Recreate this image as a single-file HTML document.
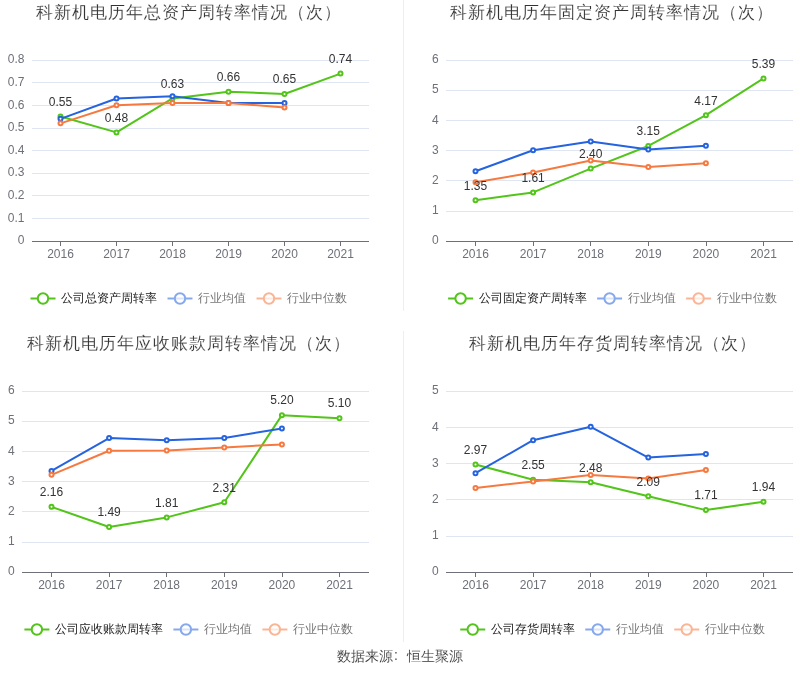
<!DOCTYPE html>
<html><head><meta charset="utf-8"><style>
html,body{margin:0;padding:0;background:#fff;}
body{width:800px;height:689px;overflow:hidden;}
svg{display:block;font-family:'Liberation Sans', sans-serif;will-change:transform;}
</style></head><body>
<svg width="800" height="689" viewBox="0 0 800 689">
<rect width="800" height="689" fill="#fff"/>
<line x1="403.5" x2="403.5" y1="0" y2="311" stroke="#eeeeee" stroke-width="1"/>
<line x1="403.5" x2="403.5" y1="331" y2="642" stroke="#eeeeee" stroke-width="1"/>
<text x="35.6" y="18" font-size="17" letter-spacing="1" fill="#333" stroke="#fff" stroke-width="0.15">科新机电历年总资产周转率情况（次）</text>
<line x1="32" x2="369" y1="218.5" y2="218.5" stroke="#e0e6f1" stroke-width="1"/>
<line x1="32" x2="369" y1="195.5" y2="195.5" stroke="#e0e6f1" stroke-width="1"/>
<line x1="32" x2="369" y1="173.5" y2="173.5" stroke="#e0e6f1" stroke-width="1"/>
<line x1="32" x2="369" y1="150.5" y2="150.5" stroke="#e0e6f1" stroke-width="1"/>
<line x1="32" x2="369" y1="128.5" y2="128.5" stroke="#e0e6f1" stroke-width="1"/>
<line x1="32" x2="369" y1="105.5" y2="105.5" stroke="#e0e6f1" stroke-width="1"/>
<line x1="32" x2="369" y1="82.5" y2="82.5" stroke="#e0e6f1" stroke-width="1"/>
<line x1="32" x2="369" y1="60.5" y2="60.5" stroke="#e0e6f1" stroke-width="1"/>
<text x="24.5" y="244" font-size="12" fill="#6e7079" text-anchor="end">0</text>
<text x="24.5" y="222" font-size="12" fill="#6e7079" text-anchor="end">0.1</text>
<text x="24.5" y="199" font-size="12" fill="#6e7079" text-anchor="end">0.2</text>
<text x="24.5" y="176" font-size="12" fill="#6e7079" text-anchor="end">0.3</text>
<text x="24.5" y="154" font-size="12" fill="#6e7079" text-anchor="end">0.4</text>
<text x="24.5" y="131" font-size="12" fill="#6e7079" text-anchor="end">0.5</text>
<text x="24.5" y="109" font-size="12" fill="#6e7079" text-anchor="end">0.6</text>
<text x="24.5" y="86" font-size="12" fill="#6e7079" text-anchor="end">0.7</text>
<text x="24.5" y="63" font-size="12" fill="#6e7079" text-anchor="end">0.8</text>
<line x1="32" x2="369" y1="241.5" y2="241.5" stroke="#6e7079" stroke-width="1"/>
<line x1="60.5" x2="60.5" y1="241.5" y2="246.0" stroke="#6e7079" stroke-width="1"/>
<text x="60.5" y="258.0" font-size="12" fill="#6e7079" text-anchor="middle">2016</text>
<line x1="116.5" x2="116.5" y1="241.5" y2="246.0" stroke="#6e7079" stroke-width="1"/>
<text x="116.5" y="258.0" font-size="12" fill="#6e7079" text-anchor="middle">2017</text>
<line x1="172.5" x2="172.5" y1="241.5" y2="246.0" stroke="#6e7079" stroke-width="1"/>
<text x="172.5" y="258.0" font-size="12" fill="#6e7079" text-anchor="middle">2018</text>
<line x1="228.5" x2="228.5" y1="241.5" y2="246.0" stroke="#6e7079" stroke-width="1"/>
<text x="228.5" y="258.0" font-size="12" fill="#6e7079" text-anchor="middle">2019</text>
<line x1="284.5" x2="284.5" y1="241.5" y2="246.0" stroke="#6e7079" stroke-width="1"/>
<text x="284.5" y="258.0" font-size="12" fill="#6e7079" text-anchor="middle">2020</text>
<line x1="340.5" x2="340.5" y1="241.5" y2="246.0" stroke="#6e7079" stroke-width="1"/>
<text x="340.5" y="258.0" font-size="12" fill="#6e7079" text-anchor="middle">2021</text>
<polyline points="60.50,116.56 116.50,132.40 172.50,98.46 228.50,91.68 284.50,93.94 340.50,73.58" fill="none" stroke="#52c41a" stroke-width="2" stroke-linejoin="round"/>
<circle cx="60.50" cy="116.56" r="2" fill="#fff" stroke="#52c41a" stroke-width="2"/>
<circle cx="116.50" cy="132.40" r="2" fill="#fff" stroke="#52c41a" stroke-width="2"/>
<circle cx="172.50" cy="98.46" r="2" fill="#fff" stroke="#52c41a" stroke-width="2"/>
<circle cx="228.50" cy="91.68" r="2" fill="#fff" stroke="#52c41a" stroke-width="2"/>
<circle cx="284.50" cy="93.94" r="2" fill="#fff" stroke="#52c41a" stroke-width="2"/>
<circle cx="340.50" cy="73.58" r="2" fill="#fff" stroke="#52c41a" stroke-width="2"/>
<polyline points="60.50,118.82 116.50,98.46 172.50,96.20 228.50,102.99 284.50,102.99" fill="none" stroke="#2563df" stroke-width="2" stroke-linejoin="round"/>
<circle cx="60.50" cy="118.82" r="2" fill="#fff" stroke="#2563df" stroke-width="2"/>
<circle cx="116.50" cy="98.46" r="2" fill="#fff" stroke="#2563df" stroke-width="2"/>
<circle cx="172.50" cy="96.20" r="2" fill="#fff" stroke="#2563df" stroke-width="2"/>
<circle cx="228.50" cy="102.99" r="2" fill="#fff" stroke="#2563df" stroke-width="2"/>
<circle cx="284.50" cy="102.99" r="2" fill="#fff" stroke="#2563df" stroke-width="2"/>
<polyline points="60.50,123.35 116.50,105.25 172.50,102.99 228.50,102.99 284.50,107.51" fill="none" stroke="#f67940" stroke-width="2" stroke-linejoin="round"/>
<circle cx="60.50" cy="123.35" r="2" fill="#fff" stroke="#f67940" stroke-width="2"/>
<circle cx="116.50" cy="105.25" r="2" fill="#fff" stroke="#f67940" stroke-width="2"/>
<circle cx="172.50" cy="102.99" r="2" fill="#fff" stroke="#f67940" stroke-width="2"/>
<circle cx="228.50" cy="102.99" r="2" fill="#fff" stroke="#f67940" stroke-width="2"/>
<circle cx="284.50" cy="107.51" r="2" fill="#fff" stroke="#f67940" stroke-width="2"/>
<text x="60.50" y="106" font-size="12" fill="#333333" text-anchor="middle">0.55</text>
<text x="116.50" y="122" font-size="12" fill="#333333" text-anchor="middle">0.48</text>
<text x="172.50" y="88" font-size="12" fill="#333333" text-anchor="middle">0.63</text>
<text x="228.50" y="81" font-size="12" fill="#333333" text-anchor="middle">0.66</text>
<text x="284.50" y="83" font-size="12" fill="#333333" text-anchor="middle">0.65</text>
<text x="340.50" y="63" font-size="12" fill="#333333" text-anchor="middle">0.74</text>
<g opacity="1"><line x1="30.5" x2="55.5" y1="298.5" y2="298.5" stroke="#52c41a" stroke-width="2"/><circle cx="43.0" cy="298.5" r="5.2" fill="#fff" fill-opacity="1" stroke="#52c41a" stroke-width="2"/></g>
<text x="61.0" y="301.5" font-size="12" fill="#222">公司总资产周转率</text>
<g opacity="0.55"><line x1="167.5" x2="192.5" y1="298.5" y2="298.5" stroke="#2563df" stroke-width="2"/><circle cx="180.0" cy="298.5" r="5.2" fill="#fff" fill-opacity="0.7" stroke="#2563df" stroke-width="2"/></g>
<text x="198.0" y="301.5" font-size="12" fill="#777">行业均值</text>
<g opacity="0.55"><line x1="256.5" x2="281.5" y1="298.5" y2="298.5" stroke="#f67940" stroke-width="2"/><circle cx="269.0" cy="298.5" r="5.2" fill="#fff" fill-opacity="0.7" stroke="#f67940" stroke-width="2"/></g>
<text x="287.0" y="301.5" font-size="12" fill="#777">行业中位数</text>
<text x="450.4" y="18" font-size="17" letter-spacing="1" fill="#333" stroke="#fff" stroke-width="0.15">科新机电历年固定资产周转率情况（次）</text>
<line x1="446" x2="793" y1="211.5" y2="211.5" stroke="#e0e6f1" stroke-width="1"/>
<line x1="446" x2="793" y1="180.5" y2="180.5" stroke="#e0e6f1" stroke-width="1"/>
<line x1="446" x2="793" y1="150.5" y2="150.5" stroke="#e0e6f1" stroke-width="1"/>
<line x1="446" x2="793" y1="120.5" y2="120.5" stroke="#e0e6f1" stroke-width="1"/>
<line x1="446" x2="793" y1="90.5" y2="90.5" stroke="#e0e6f1" stroke-width="1"/>
<line x1="446" x2="793" y1="60.5" y2="60.5" stroke="#e0e6f1" stroke-width="1"/>
<text x="438.7" y="244" font-size="12" fill="#6e7079" text-anchor="end">0</text>
<text x="438.7" y="214" font-size="12" fill="#6e7079" text-anchor="end">1</text>
<text x="438.7" y="184" font-size="12" fill="#6e7079" text-anchor="end">2</text>
<text x="438.7" y="154" font-size="12" fill="#6e7079" text-anchor="end">3</text>
<text x="438.7" y="124" font-size="12" fill="#6e7079" text-anchor="end">4</text>
<text x="438.7" y="93" font-size="12" fill="#6e7079" text-anchor="end">5</text>
<text x="438.7" y="63" font-size="12" fill="#6e7079" text-anchor="end">6</text>
<line x1="446" x2="793" y1="241.5" y2="241.5" stroke="#6e7079" stroke-width="1"/>
<line x1="475.5" x2="475.5" y1="241.5" y2="246.0" stroke="#6e7079" stroke-width="1"/>
<text x="475.5" y="258.0" font-size="12" fill="#6e7079" text-anchor="middle">2016</text>
<line x1="533.5" x2="533.5" y1="241.5" y2="246.0" stroke="#6e7079" stroke-width="1"/>
<text x="533.1" y="258.0" font-size="12" fill="#6e7079" text-anchor="middle">2017</text>
<line x1="590.5" x2="590.5" y1="241.5" y2="246.0" stroke="#6e7079" stroke-width="1"/>
<text x="590.7" y="258.0" font-size="12" fill="#6e7079" text-anchor="middle">2018</text>
<line x1="648.5" x2="648.5" y1="241.5" y2="246.0" stroke="#6e7079" stroke-width="1"/>
<text x="648.3" y="258.0" font-size="12" fill="#6e7079" text-anchor="middle">2019</text>
<line x1="706.5" x2="706.5" y1="241.5" y2="246.0" stroke="#6e7079" stroke-width="1"/>
<text x="705.9" y="258.0" font-size="12" fill="#6e7079" text-anchor="middle">2020</text>
<line x1="763.5" x2="763.5" y1="241.5" y2="246.0" stroke="#6e7079" stroke-width="1"/>
<text x="763.5" y="258.0" font-size="12" fill="#6e7079" text-anchor="middle">2021</text>
<polyline points="475.50,200.28 533.10,192.43 590.70,168.60 648.30,145.97 705.90,115.21 763.50,78.40" fill="none" stroke="#52c41a" stroke-width="2" stroke-linejoin="round"/>
<circle cx="475.50" cy="200.28" r="2" fill="#fff" stroke="#52c41a" stroke-width="2"/>
<circle cx="533.10" cy="192.43" r="2" fill="#fff" stroke="#52c41a" stroke-width="2"/>
<circle cx="590.70" cy="168.60" r="2" fill="#fff" stroke="#52c41a" stroke-width="2"/>
<circle cx="648.30" cy="145.97" r="2" fill="#fff" stroke="#52c41a" stroke-width="2"/>
<circle cx="705.90" cy="115.21" r="2" fill="#fff" stroke="#52c41a" stroke-width="2"/>
<circle cx="763.50" cy="78.40" r="2" fill="#fff" stroke="#52c41a" stroke-width="2"/>
<polyline points="475.50,171.31 533.10,150.20 590.70,141.45 648.30,149.59 705.90,145.67" fill="none" stroke="#2563df" stroke-width="2" stroke-linejoin="round"/>
<circle cx="475.50" cy="171.31" r="2" fill="#fff" stroke="#2563df" stroke-width="2"/>
<circle cx="533.10" cy="150.20" r="2" fill="#fff" stroke="#2563df" stroke-width="2"/>
<circle cx="590.70" cy="141.45" r="2" fill="#fff" stroke="#2563df" stroke-width="2"/>
<circle cx="648.30" cy="149.59" r="2" fill="#fff" stroke="#2563df" stroke-width="2"/>
<circle cx="705.90" cy="145.67" r="2" fill="#fff" stroke="#2563df" stroke-width="2"/>
<polyline points="475.50,182.18 533.10,172.52 590.70,160.45 648.30,167.09 705.90,163.17" fill="none" stroke="#f67940" stroke-width="2" stroke-linejoin="round"/>
<circle cx="475.50" cy="182.18" r="2" fill="#fff" stroke="#f67940" stroke-width="2"/>
<circle cx="533.10" cy="172.52" r="2" fill="#fff" stroke="#f67940" stroke-width="2"/>
<circle cx="590.70" cy="160.45" r="2" fill="#fff" stroke="#f67940" stroke-width="2"/>
<circle cx="648.30" cy="167.09" r="2" fill="#fff" stroke="#f67940" stroke-width="2"/>
<circle cx="705.90" cy="163.17" r="2" fill="#fff" stroke="#f67940" stroke-width="2"/>
<text x="475.50" y="190" font-size="12" fill="#333333" text-anchor="middle">1.35</text>
<text x="533.10" y="182" font-size="12" fill="#333333" text-anchor="middle">1.61</text>
<text x="590.70" y="158" font-size="12" fill="#333333" text-anchor="middle">2.40</text>
<text x="648.30" y="135" font-size="12" fill="#333333" text-anchor="middle">3.15</text>
<text x="705.90" y="105" font-size="12" fill="#333333" text-anchor="middle">4.17</text>
<text x="763.50" y="68" font-size="12" fill="#333333" text-anchor="middle">5.39</text>
<g opacity="1"><line x1="448.1" x2="473.1" y1="298.5" y2="298.5" stroke="#52c41a" stroke-width="2"/><circle cx="460.6" cy="298.5" r="5.2" fill="#fff" fill-opacity="1" stroke="#52c41a" stroke-width="2"/></g>
<text x="478.6" y="301.5" font-size="12" fill="#222">公司固定资产周转率</text>
<g opacity="0.55"><line x1="597.1" x2="622.1" y1="298.5" y2="298.5" stroke="#2563df" stroke-width="2"/><circle cx="609.6" cy="298.5" r="5.2" fill="#fff" fill-opacity="0.7" stroke="#2563df" stroke-width="2"/></g>
<text x="627.6" y="301.5" font-size="12" fill="#777">行业均值</text>
<g opacity="0.55"><line x1="686.1" x2="711.1" y1="298.5" y2="298.5" stroke="#f67940" stroke-width="2"/><circle cx="698.6" cy="298.5" r="5.2" fill="#fff" fill-opacity="0.7" stroke="#f67940" stroke-width="2"/></g>
<text x="716.6" y="301.5" font-size="12" fill="#777">行业中位数</text>
<text x="26.5" y="349" font-size="17" letter-spacing="1" fill="#333" stroke="#fff" stroke-width="0.15">科新机电历年应收账款周转率情况（次）</text>
<line x1="22" x2="369" y1="542.5" y2="542.5" stroke="#e0e6f1" stroke-width="1"/>
<line x1="22" x2="369" y1="511.5" y2="511.5" stroke="#e0e6f1" stroke-width="1"/>
<line x1="22" x2="369" y1="481.5" y2="481.5" stroke="#e0e6f1" stroke-width="1"/>
<line x1="22" x2="369" y1="451.5" y2="451.5" stroke="#e0e6f1" stroke-width="1"/>
<line x1="22" x2="369" y1="421.5" y2="421.5" stroke="#e0e6f1" stroke-width="1"/>
<line x1="22" x2="369" y1="391.5" y2="391.5" stroke="#e0e6f1" stroke-width="1"/>
<text x="14.7" y="575" font-size="12" fill="#6e7079" text-anchor="end">0</text>
<text x="14.7" y="545" font-size="12" fill="#6e7079" text-anchor="end">1</text>
<text x="14.7" y="515" font-size="12" fill="#6e7079" text-anchor="end">2</text>
<text x="14.7" y="485" font-size="12" fill="#6e7079" text-anchor="end">3</text>
<text x="14.7" y="455" font-size="12" fill="#6e7079" text-anchor="end">4</text>
<text x="14.7" y="424" font-size="12" fill="#6e7079" text-anchor="end">5</text>
<text x="14.7" y="394" font-size="12" fill="#6e7079" text-anchor="end">6</text>
<line x1="22" x2="369" y1="572.5" y2="572.5" stroke="#6e7079" stroke-width="1"/>
<line x1="51.5" x2="51.5" y1="572.5" y2="577.0" stroke="#6e7079" stroke-width="1"/>
<text x="51.5" y="589.0" font-size="12" fill="#6e7079" text-anchor="middle">2016</text>
<line x1="109.5" x2="109.5" y1="572.5" y2="577.0" stroke="#6e7079" stroke-width="1"/>
<text x="109.1" y="589.0" font-size="12" fill="#6e7079" text-anchor="middle">2017</text>
<line x1="166.5" x2="166.5" y1="572.5" y2="577.0" stroke="#6e7079" stroke-width="1"/>
<text x="166.7" y="589.0" font-size="12" fill="#6e7079" text-anchor="middle">2018</text>
<line x1="224.5" x2="224.5" y1="572.5" y2="577.0" stroke="#6e7079" stroke-width="1"/>
<text x="224.3" y="589.0" font-size="12" fill="#6e7079" text-anchor="middle">2019</text>
<line x1="282.5" x2="282.5" y1="572.5" y2="577.0" stroke="#6e7079" stroke-width="1"/>
<text x="281.9" y="589.0" font-size="12" fill="#6e7079" text-anchor="middle">2020</text>
<line x1="339.5" x2="339.5" y1="572.5" y2="577.0" stroke="#6e7079" stroke-width="1"/>
<text x="339.5" y="589.0" font-size="12" fill="#6e7079" text-anchor="middle">2021</text>
<polyline points="51.50,506.84 109.10,527.05 166.70,517.40 224.30,502.31 281.90,415.13 339.50,418.15" fill="none" stroke="#52c41a" stroke-width="2" stroke-linejoin="round"/>
<circle cx="51.50" cy="506.84" r="2" fill="#fff" stroke="#52c41a" stroke-width="2"/>
<circle cx="109.10" cy="527.05" r="2" fill="#fff" stroke="#52c41a" stroke-width="2"/>
<circle cx="166.70" cy="517.40" r="2" fill="#fff" stroke="#52c41a" stroke-width="2"/>
<circle cx="224.30" cy="502.31" r="2" fill="#fff" stroke="#52c41a" stroke-width="2"/>
<circle cx="281.90" cy="415.13" r="2" fill="#fff" stroke="#52c41a" stroke-width="2"/>
<circle cx="339.50" cy="418.15" r="2" fill="#fff" stroke="#52c41a" stroke-width="2"/>
<polyline points="51.50,470.94 109.10,438.06 166.70,440.17 224.30,438.06 281.90,428.41" fill="none" stroke="#2563df" stroke-width="2" stroke-linejoin="round"/>
<circle cx="51.50" cy="470.94" r="2" fill="#fff" stroke="#2563df" stroke-width="2"/>
<circle cx="109.10" cy="438.06" r="2" fill="#fff" stroke="#2563df" stroke-width="2"/>
<circle cx="166.70" cy="440.17" r="2" fill="#fff" stroke="#2563df" stroke-width="2"/>
<circle cx="224.30" cy="438.06" r="2" fill="#fff" stroke="#2563df" stroke-width="2"/>
<circle cx="281.90" cy="428.41" r="2" fill="#fff" stroke="#2563df" stroke-width="2"/>
<polyline points="51.50,474.86 109.10,450.73 166.70,450.43 224.30,447.41 281.90,444.39" fill="none" stroke="#f67940" stroke-width="2" stroke-linejoin="round"/>
<circle cx="51.50" cy="474.86" r="2" fill="#fff" stroke="#f67940" stroke-width="2"/>
<circle cx="109.10" cy="450.73" r="2" fill="#fff" stroke="#f67940" stroke-width="2"/>
<circle cx="166.70" cy="450.43" r="2" fill="#fff" stroke="#f67940" stroke-width="2"/>
<circle cx="224.30" cy="447.41" r="2" fill="#fff" stroke="#f67940" stroke-width="2"/>
<circle cx="281.90" cy="444.39" r="2" fill="#fff" stroke="#f67940" stroke-width="2"/>
<text x="51.50" y="496" font-size="12" fill="#333333" text-anchor="middle">2.16</text>
<text x="109.10" y="516" font-size="12" fill="#333333" text-anchor="middle">1.49</text>
<text x="166.70" y="507" font-size="12" fill="#333333" text-anchor="middle">1.81</text>
<text x="224.30" y="492" font-size="12" fill="#333333" text-anchor="middle">2.31</text>
<text x="281.90" y="404" font-size="12" fill="#333333" text-anchor="middle">5.20</text>
<text x="339.50" y="407" font-size="12" fill="#333333" text-anchor="middle">5.10</text>
<g opacity="1"><line x1="24.4" x2="49.4" y1="629.5" y2="629.5" stroke="#52c41a" stroke-width="2"/><circle cx="36.9" cy="629.5" r="5.2" fill="#fff" fill-opacity="1" stroke="#52c41a" stroke-width="2"/></g>
<text x="54.9" y="632.5" font-size="12" fill="#222">公司应收账款周转率</text>
<g opacity="0.55"><line x1="173.4" x2="198.4" y1="629.5" y2="629.5" stroke="#2563df" stroke-width="2"/><circle cx="185.9" cy="629.5" r="5.2" fill="#fff" fill-opacity="0.7" stroke="#2563df" stroke-width="2"/></g>
<text x="203.9" y="632.5" font-size="12" fill="#777">行业均值</text>
<g opacity="0.55"><line x1="262.4" x2="287.4" y1="629.5" y2="629.5" stroke="#f67940" stroke-width="2"/><circle cx="274.9" cy="629.5" r="5.2" fill="#fff" fill-opacity="0.7" stroke="#f67940" stroke-width="2"/></g>
<text x="292.9" y="632.5" font-size="12" fill="#777">行业中位数</text>
<text x="468.7" y="349" font-size="17" letter-spacing="1" fill="#333" stroke="#fff" stroke-width="0.15">科新机电历年存货周转率情况（次）</text>
<line x1="446" x2="793" y1="536.5" y2="536.5" stroke="#e0e6f1" stroke-width="1"/>
<line x1="446" x2="793" y1="499.5" y2="499.5" stroke="#e0e6f1" stroke-width="1"/>
<line x1="446" x2="793" y1="463.5" y2="463.5" stroke="#e0e6f1" stroke-width="1"/>
<line x1="446" x2="793" y1="427.5" y2="427.5" stroke="#e0e6f1" stroke-width="1"/>
<line x1="446" x2="793" y1="391.5" y2="391.5" stroke="#e0e6f1" stroke-width="1"/>
<text x="438.7" y="575" font-size="12" fill="#6e7079" text-anchor="end">0</text>
<text x="438.7" y="539" font-size="12" fill="#6e7079" text-anchor="end">1</text>
<text x="438.7" y="503" font-size="12" fill="#6e7079" text-anchor="end">2</text>
<text x="438.7" y="467" font-size="12" fill="#6e7079" text-anchor="end">3</text>
<text x="438.7" y="431" font-size="12" fill="#6e7079" text-anchor="end">4</text>
<text x="438.7" y="394" font-size="12" fill="#6e7079" text-anchor="end">5</text>
<line x1="446" x2="793" y1="572.5" y2="572.5" stroke="#6e7079" stroke-width="1"/>
<line x1="475.5" x2="475.5" y1="572.5" y2="577.0" stroke="#6e7079" stroke-width="1"/>
<text x="475.5" y="589.0" font-size="12" fill="#6e7079" text-anchor="middle">2016</text>
<line x1="533.5" x2="533.5" y1="572.5" y2="577.0" stroke="#6e7079" stroke-width="1"/>
<text x="533.1" y="589.0" font-size="12" fill="#6e7079" text-anchor="middle">2017</text>
<line x1="590.5" x2="590.5" y1="572.5" y2="577.0" stroke="#6e7079" stroke-width="1"/>
<text x="590.7" y="589.0" font-size="12" fill="#6e7079" text-anchor="middle">2018</text>
<line x1="648.5" x2="648.5" y1="572.5" y2="577.0" stroke="#6e7079" stroke-width="1"/>
<text x="648.3" y="589.0" font-size="12" fill="#6e7079" text-anchor="middle">2019</text>
<line x1="706.5" x2="706.5" y1="572.5" y2="577.0" stroke="#6e7079" stroke-width="1"/>
<text x="705.9" y="589.0" font-size="12" fill="#6e7079" text-anchor="middle">2020</text>
<line x1="763.5" x2="763.5" y1="572.5" y2="577.0" stroke="#6e7079" stroke-width="1"/>
<text x="763.5" y="589.0" font-size="12" fill="#6e7079" text-anchor="middle">2021</text>
<polyline points="475.50,464.49 533.10,479.69 590.70,482.22 648.30,496.34 705.90,510.10 763.50,501.77" fill="none" stroke="#52c41a" stroke-width="2" stroke-linejoin="round"/>
<circle cx="475.50" cy="464.49" r="2" fill="#fff" stroke="#52c41a" stroke-width="2"/>
<circle cx="533.10" cy="479.69" r="2" fill="#fff" stroke="#52c41a" stroke-width="2"/>
<circle cx="590.70" cy="482.22" r="2" fill="#fff" stroke="#52c41a" stroke-width="2"/>
<circle cx="648.30" cy="496.34" r="2" fill="#fff" stroke="#52c41a" stroke-width="2"/>
<circle cx="705.90" cy="510.10" r="2" fill="#fff" stroke="#52c41a" stroke-width="2"/>
<circle cx="763.50" cy="501.77" r="2" fill="#fff" stroke="#52c41a" stroke-width="2"/>
<polyline points="475.50,473.17 533.10,440.23 590.70,426.84 648.30,457.61 705.90,453.99" fill="none" stroke="#2563df" stroke-width="2" stroke-linejoin="round"/>
<circle cx="475.50" cy="473.17" r="2" fill="#fff" stroke="#2563df" stroke-width="2"/>
<circle cx="533.10" cy="440.23" r="2" fill="#fff" stroke="#2563df" stroke-width="2"/>
<circle cx="590.70" cy="426.84" r="2" fill="#fff" stroke="#2563df" stroke-width="2"/>
<circle cx="648.30" cy="457.61" r="2" fill="#fff" stroke="#2563df" stroke-width="2"/>
<circle cx="705.90" cy="453.99" r="2" fill="#fff" stroke="#2563df" stroke-width="2"/>
<polyline points="475.50,488.02 533.10,481.50 590.70,474.98 648.30,478.60 705.90,469.92" fill="none" stroke="#f67940" stroke-width="2" stroke-linejoin="round"/>
<circle cx="475.50" cy="488.02" r="2" fill="#fff" stroke="#f67940" stroke-width="2"/>
<circle cx="533.10" cy="481.50" r="2" fill="#fff" stroke="#f67940" stroke-width="2"/>
<circle cx="590.70" cy="474.98" r="2" fill="#fff" stroke="#f67940" stroke-width="2"/>
<circle cx="648.30" cy="478.60" r="2" fill="#fff" stroke="#f67940" stroke-width="2"/>
<circle cx="705.90" cy="469.92" r="2" fill="#fff" stroke="#f67940" stroke-width="2"/>
<text x="475.50" y="454" font-size="12" fill="#333333" text-anchor="middle">2.97</text>
<text x="533.10" y="469" font-size="12" fill="#333333" text-anchor="middle">2.55</text>
<text x="590.70" y="472" font-size="12" fill="#333333" text-anchor="middle">2.48</text>
<text x="648.30" y="486" font-size="12" fill="#333333" text-anchor="middle">2.09</text>
<text x="705.90" y="499" font-size="12" fill="#333333" text-anchor="middle">1.71</text>
<text x="763.50" y="491" font-size="12" fill="#333333" text-anchor="middle">1.94</text>
<g opacity="1"><line x1="460.25" x2="485.25" y1="629.5" y2="629.5" stroke="#52c41a" stroke-width="2"/><circle cx="472.75" cy="629.5" r="5.2" fill="#fff" fill-opacity="1" stroke="#52c41a" stroke-width="2"/></g>
<text x="490.75" y="632.5" font-size="12" fill="#222">公司存货周转率</text>
<g opacity="0.55"><line x1="585.25" x2="610.25" y1="629.5" y2="629.5" stroke="#2563df" stroke-width="2"/><circle cx="597.75" cy="629.5" r="5.2" fill="#fff" fill-opacity="0.7" stroke="#2563df" stroke-width="2"/></g>
<text x="615.75" y="632.5" font-size="12" fill="#777">行业均值</text>
<g opacity="0.55"><line x1="674.25" x2="699.25" y1="629.5" y2="629.5" stroke="#f67940" stroke-width="2"/><circle cx="686.75" cy="629.5" r="5.2" fill="#fff" fill-opacity="0.7" stroke="#f67940" stroke-width="2"/></g>
<text x="704.75" y="632.5" font-size="12" fill="#777">行业中位数</text>
<g font-size="14" fill="#333" stroke="#fff" stroke-width="0.1"><text x="337" y="661">数据来源</text><text x="394" y="660">:</text><text x="407" y="661">恒生聚源</text></g>
</svg>
</body></html>
